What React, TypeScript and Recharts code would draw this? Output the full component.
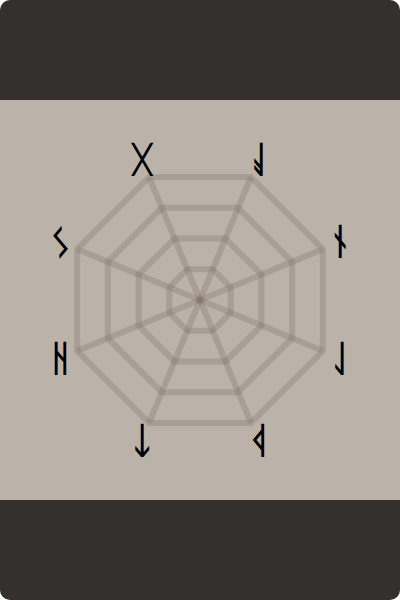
import React from 'react';
import { RadarChart, Radar, PolarGrid, PolarAngleAxis, PolarRadiusAxis } from 'recharts';

const RUNES = ['ᚷ', 'ᚨ', 'ᚾ', 'ᛚ', 'ᚦ', 'ᛏ', 'ᚺ', 'ᛊ'];
const VALUES = [0, 0, 0, 0, 0, 0, 0, 0];
const RADIUS_TICKS = [0, 1, 2, 3, 4];

const data = RUNES.map((rune, i) => ({ rune, value: VALUES[i] }));

const DARK = '#34302d';
const LIGHT = '#bbb2a9';

const RuneTick = (props: any) => {
  const { x, y, payload } = props;
  return (
    <text
      x={x}
      y={y}
      textAnchor="middle"
      dominantBaseline="central"
      fontFamily="'DejaVu Sans', sans-serif"
      fontSize={36}
      fill="#000"
      stroke="#000"
      strokeWidth={1.3}
      transform={`rotate(180 ${x} ${y})`}
    >
      {payload.value}
    </text>
  );
};

export default function App() {
  return (
    <div
      style={{
        position: 'absolute',
        left: 0,
        top: 0,
        width: 400,
        height: 600,
        borderRadius: 10,
        overflow: 'hidden',
        background: `linear-gradient(to bottom, ${DARK} 0px, ${DARK} 100px, ${LIGHT} 100px, ${LIGHT} 500px, ${DARK} 500px, ${DARK} 600px)`,
      }}
    >
      <RadarChart
        width={400}
        height={600}
        cx={200}
        cy={300}
        outerRadius={133}
        startAngle={112.5}
        endAngle={-247.5}
        data={data}
        margin={{ top: 0, right: 0, bottom: 0, left: 0 }}
      >
        <PolarGrid stroke="#6e655d" strokeOpacity={0.25} strokeWidth={6} />
        <PolarRadiusAxis domain={[0, 4]} ticks={RADIUS_TICKS as any} tickCount={5} tick={false} axisLine={false} />
        <PolarAngleAxis dataKey="rune" tick={<RuneTick />} tickLine={false} tickSize={19} axisLine={false} />
        <Radar dataKey="value" stroke="none" fill="none" isAnimationActive={false} />
      </RadarChart>
    </div>
  );
}
